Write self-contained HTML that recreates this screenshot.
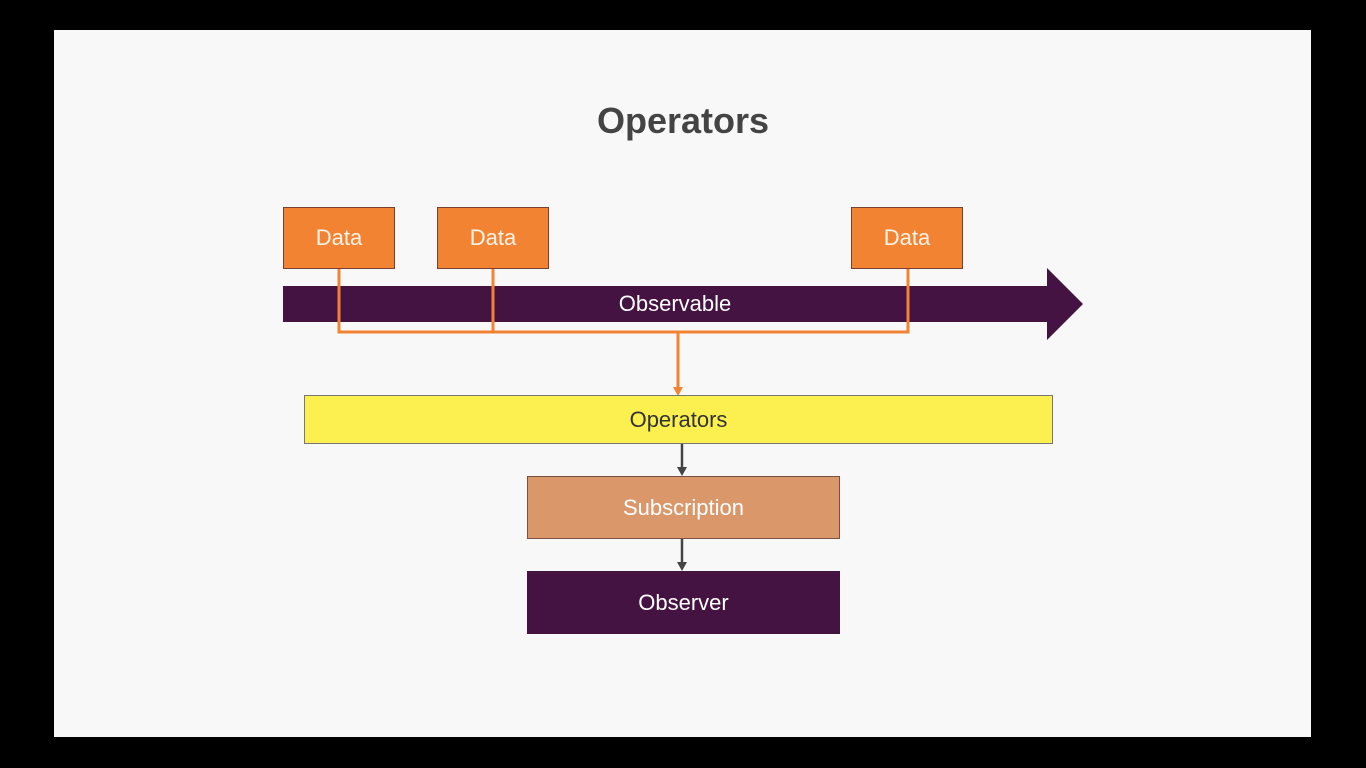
<!DOCTYPE html>
<html><head><style>
body{margin:0;background:#000;width:1366px;height:768px;position:relative;overflow:hidden;font-family:"Liberation Sans",sans-serif}
.slide{position:absolute;left:54px;top:30px;width:1257px;height:707px;background:#f8f8f8}
.b{position:absolute;box-sizing:border-box;display:flex;align-items:center;justify-content:center;font-size:22px}
.d{background:#f28333;border:1px solid #7a4030;color:#fff4e8;width:112px;height:62px;top:207px}
</style></head><body>
<div class="slide"></div>
<div style="position:absolute;left:0;width:1366px;top:100px;text-align:center;font-size:36px;font-weight:bold;color:#444">Operators</div>
<svg style="position:absolute;left:0;top:0" width="1366" height="768">
<polygon points="283,286 1047,286 1047,268 1083,304 1047,340 1047,322 283,322" fill="#451342"/>
<polyline points="339,269 339,332 908,332 908,269" fill="none" stroke="#f28333" stroke-width="3"/>
<line x1="493" y1="269" x2="493" y2="332" stroke="#f28333" stroke-width="3"/>
<line x1="678" y1="332" x2="678" y2="388" stroke="#f28333" stroke-width="3"/>
<polygon points="673,387 683,387 678,396" fill="#f28333"/>
<line x1="682" y1="443" x2="682" y2="468" stroke="#444" stroke-width="2.5"/>
<polygon points="677,467 687,467 682,476" fill="#444"/>
<line x1="682" y1="539" x2="682" y2="563" stroke="#444" stroke-width="2.5"/>
<polygon points="677,562 687,562 682,571" fill="#444"/>
</svg>
<div class="b d" style="left:283px">Data</div>
<div class="b d" style="left:437px">Data</div>
<div class="b d" style="left:851px">Data</div>
<div class="b" style="left:283px;top:286px;width:784px;height:36px;color:#fff">Observable</div>
<div class="b" style="left:304px;top:395px;width:749px;height:49px;background:#fbf050;border:1px solid #777;color:#333">Operators</div>
<div class="b" style="left:527px;top:476px;width:313px;height:63px;background:#d9976a;border:1px solid #7a5040;color:#fff">Subscription</div>
<div class="b" style="left:527px;top:571px;width:313px;height:63px;background:#451342;color:#fff">Observer</div>
</body></html>
